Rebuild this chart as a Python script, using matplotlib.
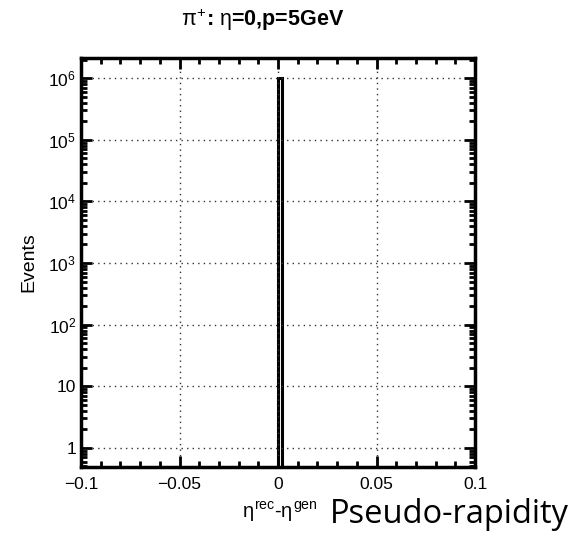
import numpy as np
import matplotlib
matplotlib.use("Agg")
import matplotlib.pyplot as plt
from matplotlib.ticker import FixedLocator, LogLocator, NullFormatter

# histogram data: one filled bin just right of zero
bin_edges = [0.0, 0.002]
counts = [1e6]

x_ticks = [-0.1, -0.05, 0, 0.05, 0.1]
x_labels = ["\u22120.1", "\u22120.05", "0", "0.05", "0.1"]
y_ticks = [1, 10, 1e2, 1e3, 1e4, 1e5, 1e6]
y_labels = ["1", "10", r"10$^2$", r"10$^3$", r"10$^4$", r"10$^5$", r"10$^6$"]

plt.rcParams['font.family'] = ['Liberation Sans', 'DejaVu Sans']
plt.rcParams['mathtext.fontset'] = 'custom'
plt.rcParams['mathtext.rm'] = 'Liberation Sans'
plt.rcParams['mathtext.it'] = 'Liberation Sans'
plt.rcParams['mathtext.bf'] = 'Liberation Sans:bold'

fig = plt.figure(figsize=(5.8, 5.34), dpi=100)
ax = fig.add_axes([0.1397, 0.1255, 0.6793, 0.7655])

ax.bar(bin_edges[0], counts[0], width=bin_edges[1] - bin_edges[0], align='edge',
       bottom=0.3, fill=False, edgecolor='black', linewidth=2.2)

ax.set_yscale('log')
ax.set_xlim(-0.1, 0.1)
ax.set_ylim(0.49, 2.1e6)

ax.xaxis.set_major_locator(FixedLocator(x_ticks))
ax.set_xticklabels(x_labels)
ax.xaxis.set_minor_locator(FixedLocator(np.arange(-0.1, 0.1001, 0.01)))
ax.yaxis.set_major_locator(FixedLocator(y_ticks))
ax.set_yticklabels(y_labels)
ax.yaxis.set_minor_locator(LogLocator(base=10, subs=np.arange(2, 10)))
ax.yaxis.set_minor_formatter(NullFormatter())

ax.tick_params(which='both', direction='in', top=True, right=True, labelsize=12.5, width=2)
ax.tick_params(axis='x', which='major', pad=7)
ax.tick_params(which='major', length=8)
ax.tick_params(which='minor', length=4)
for s in ax.spines.values():
    s.set_linewidth(2.5)

ax.grid(True, which='major', linestyle=(0, (1, 3)), color='#333333', linewidth=1)

ax.set_ylabel("Events", fontsize=14, labelpad=8)
fig.text(0.452, 0.963, r"$\pi^{+}$: $\eta$=0,p=5GeV", ha='center', va='center',
         fontsize=15.5, fontweight='bold')
fig.text(0.417, 0.030, r"$\eta^{\rm rec}$-$\eta^{\rm gen}$", ha='left', va='baseline', fontsize=14.5)
fig.text(0.569, 0.0206, "Pseudo-rapidity", ha='left', va='baseline', fontsize=23.5,
         family=['Open Sans', 'DejaVu Sans'])

fig.savefig("out.png", dpi=100)
